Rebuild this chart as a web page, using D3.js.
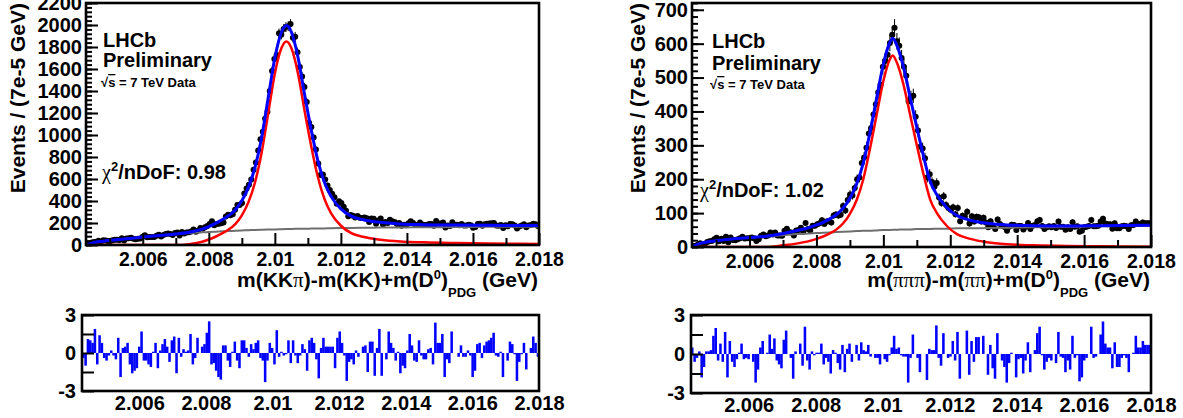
<!DOCTYPE html>
<html><head><meta charset="utf-8">
<script src="https://cdn.jsdelivr.net/npm/d3@7"></script>
<style>
body{margin:0;background:#fff}
svg{display:block}
text{font-family:"Liberation Sans",Arial,Helvetica,sans-serif;font-weight:bold;fill:#000}
</style>
</head><body>
<svg id="c" width="1183" height="418"></svg>
<script>
// ---------- binning / axes ----------
const massLow = 2.00428, massHigh = 2.018, binWidth = 0.00007;
const massTicks = [2.006, 2.008, 2.010, 2.012, 2.014, 2.016, 2.018];
const massTickLabels = ["2.006","2.008","2.01","2.012","2.014","2.016","2.018"];
const massMinorTicks = [2.005, 2.007, 2.009, 2.011, 2.013, 2.015, 2.017];
const kkYTicks = [0,200,400,600,800,1000,1200,1400,1600,1800,2000,2200];
const piYTicks = [0,100,200,300,400,500,600,700];
const pullTicks = [-3,-1.5,0,1.5,3];
const pullTickLabels = ["-3","","0","","3"];

// ---------- K K pi : data (events per bin) ----------
const kkData = [2,7,23,28,30,39,27,43,42,37,
37,43,47,47,46,61,40,59,62,67,
56,52,56,60,76,89,71,73,72,72,
85,93,77,92,99,105,101,90,109,114,
87,118,105,114,117,122,142,121,131,155,
147,161,172,192,215,179,191,193,197,205,
260,274,271,280,320,363,363,381,469,513,
547,595,684,749,859,962,1029,1147,1212,1399,
1582,1692,1728,1924,1912,1964,1981,1989,2009,1885,
1893,1752,1618,1532,1436,1301,1112,1072,977,868,
741,637,640,595,542,501,466,435,376,398,
382,348,311,262,273,267,251,263,247,246,
249,244,208,241,238,193,223,242,186,210,
201,230,215,208,192,201,175,183,179,198,
215,201,184,181,204,186,181,181,191,192,
174,218,196,196,204,158,177,173,206,183,
183,179,191,178,178,185,179,156,163,191,
193,176,189,193,195,197,201,177,176,181,
155,179,171,191,188,178,149,169,177,189,
161,178,182,194,188,173];
// fit curves (K K pi)
const kkCurveMass = [2.00428,2.0045,2.0048,2.0052,2.0056,2.0060,2.0065,2.0070,2.0074,2.0078,2.0080,2.0082,2.0084,2.0086,2.0088,2.0090,2.0092,2.0094,2.0096,2.0098,2.0100,2.0102,2.01035,2.0105,2.0107,2.0109,2.0111,2.0113,2.0115,2.0117,2.0120,2.0123,2.0127,2.0132,2.0138,2.0145,2.0155,2.0165,2.0180];
const kkSignal = [0,0,0,0,0,0,0,0,8,30,50,75,105,140,190,270,390,570,840,1200,1560,1790,1850,1790,1560,1220,900,620,420,290,175,110,72,48,32,24,18,14,10];
const kkBackground = [0,22,35,48,60,72,86,99,108,115,118,121,124,127,129,132,135,137,139,141,142,144,145,146,147,148,149,150,151,152,154,155,156,158,160,161,163,165,167];
const kkTotal = [0,22,35,48,60,72,86,99,116,145,168,196,229,267,319,402,525,707,979,1341,1702,1934,1995,1936,1707,1368,1049,770,571,442,329,265,228,206,192,185,181,179,177];
// pulls (K K pi)
const kkPull = [-0.4,-1.0,1.1,1.0,0.8,1.9,-0.9,1.4,0.8,-0.4,
-0.6,-0.2,0.2,-0.2,-0.5,1.2,-1.9,0.4,0.5,0.8,
-0.9,-1.6,-1.4,-1.2,0.5,1.7,-0.6,-0.6,-0.9,-1.1,
0.1,0.8,-1.2,0.2,0.7,1.1,0.5,-0.7,1.0,1.3,
-1.6,1.2,-0.3,0.3,0.1,0.2,1.5,-0.9,-0.4,1.2,
0.0,0.5,0.7,1.6,2.5,-0.9,-0.8,-1.4,-1.9,-2.1,
0.6,0.6,-0.6,-1.1,0.1,0.9,-0.6,-1.2,1.0,1.0,
0.4,-0.3,0.7,0.3,0.8,1.0,-0.4,-0.6,-2.3,-0.6,
0.8,0.4,-0.9,1.8,-0.3,0.1,-0.2,-0.1,1.0,-0.8,
1.0,-0.2,-0.8,-0.2,0.7,0.3,-1.4,1.0,1.2,0.8,
-0.5,-2.0,0.4,1.2,0.5,0.5,0.5,0.5,-1.2,1.2,
1.7,0.8,-0.2,-2.2,-0.7,-0.5,-0.9,0.2,-0.3,0.0,
0.5,0.6,-1.5,0.9,0.9,-1.8,0.4,1.9,-1.8,0.0,
-0.5,1.7,0.8,0.4,-0.6,0.1,-1.6,-1.0,-1.2,0.2,
1.5,0.6,-0.6,-0.7,1.0,-0.2,-0.5,-0.5,0.3,0.4,
-0.9,2.4,0.8,0.8,1.5,-1.9,-0.5,-0.8,1.7,0.0,
0.0,-0.3,0.6,-0.3,-0.3,0.2,-0.2,-1.9,-1.4,0.7,
0.8,-0.4,0.6,0.9,1.0,1.2,1.6,-0.2,-0.3,0.1,
-1.9,0.0,-0.6,0.9,0.7,-0.1,-2.2,-0.7,-0.1,0.8,
-1.3,0.0,0.4,1.3,0.8,-0.3];

// ---------- pi pi pi : data ----------
const piData = [3,4,7,11,6,9,15,17,18,23,
27,17,24,18,30,14,28,21,20,23,
26,30,25,26,26,28,26,18,23,33,
37,32,34,43,37,43,34,34,33,48,
54,44,43,34,49,50,57,46,71,53,
49,63,63,67,70,79,68,75,76,72,
93,96,93,95,121,108,139,155,152,174,
200,205,248,264,293,335,351,391,421,456,
479,532,549,567,602,626,647,607,594,558,
532,505,430,440,446,384,344,296,291,262,
205,215,192,178,189,146,130,150,124,115,
110,117,97,115,76,92,89,104,69,91,
75,89,88,75,86,72,58,76,61,53,
81,68,63,59,48,60,66,65,50,62,
62,52,60,71,53,63,65,76,80,62,
53,58,61,58,62,56,75,60,60,51,
58,53,73,60,61,45,48,58,60,62,
80,61,61,63,75,83,69,67,67,54,
70,55,55,61,63,61,53,64,65,75,
68,68,72,70,70,70];
const piCurveMass = [2.00428,2.0045,2.0048,2.0052,2.0056,2.0060,2.0065,2.0070,2.0074,2.0078,2.0080,2.0082,2.0084,2.0086,2.0088,2.0090,2.0092,2.0094,2.0096,2.0098,2.0100,2.0102,2.01028,2.0104,2.0106,2.0108,2.0110,2.0112,2.0114,2.0116,2.0119,2.0122,2.0126,2.0131,2.0137,2.0145,2.0155,2.0165,2.0180];
const piSignal = [0,0,0,0,0,0,0,5,10,18,24,31,40,52,70,98,138,200,290,390,490,555,565,545,480,390,300,215,140,100,62,38,24,14,8,5,3,2,1];
const piBackground = [0,10,16,21,25,28,32,35,38,40,41,42,43,44,45,46,47,48,48,49,50,50,51,51,52,52,53,53,53,54,54,55,55,56,57,58,59,61,63];
const piTotal = [0,10,16,21,25,28,32,40,48,58,65,73,83,96,115,144,185,248,338,439,540,605,616,596,532,442,353,268,193,154,116,93,79,70,65,63,62,63,64];
const piPull = [0.5,-0.6,-0.3,0.2,-1.8,-1.0,0.2,0.2,0.3,1.4,
2.0,-0.5,0.8,-0.6,1.7,-1.8,1.0,-0.6,-1.0,-0.4,
0.1,0.8,-0.4,-0.3,-0.4,0.0,-0.6,-2.2,-1.2,0.5,
1.0,0.0,0.1,1.5,0.4,1.2,-0.5,-0.8,-1.1,1.1,
1.8,0.0,-0.3,-1.9,0.2,0.0,0.8,-0.9,2.1,-0.5,
-1.2,0.2,-0.1,0.1,0.1,0.8,-0.8,-0.3,-0.6,-1.5,
0.3,0.1,-0.7,-1.2,0.7,-1.4,0.4,0.8,-0.6,0.0,
0.7,-0.5,0.9,0.3,0.2,0.7,-0.2,0.0,-0.3,-0.3,
-0.8,0.0,-0.4,-0.6,-0.1,0.5,1.4,0.4,0.5,
-0.1,-0.2,-0.2,-2.2,-0.3,1.5,0.0,-0.3,-1.4,0.0,
0.0,-2.0,0.4,0.3,0.3,2.2,-0.3,-0.9,1.6,0.0,
-0.3,-0.2,1.0,-0.5,1.7,-1.9,0.0,0.0,1.8,-1.6,
1.0,-0.6,1.3,1.3,0.0,1.4,0.0,-1.6,0.7,-1.1,
-1.9,1.6,0.0,-0.5,-1.0,-2.2,-0.7,0.1,0.0,-1.8,
-0.4,-0.3,-1.5,-0.5,0.9,-1.4,0.0,0.3,1.6,2.1,
-0.1,-1.2,-0.6,-0.3,-0.5,0.0,-0.7,1.7,-0.2,-0.3,
-1.4,-0.5,-1.2,1.4,-0.3,-0.1,-2.1,-1.8,-0.5,-0.3,
0.0,2.1,-0.3,-0.2,0.0,1.5,2.5,0.8,0.5,0.5,
-1.1,0.9,-1.0,-1.0,-0.3,-0.1,-0.3,-1.4,0.0,
0.1,1.4,0.5,0.5,1.0,0.7,0.7,0.7];

// ---------- drawing ----------
const svg = d3.select("#c");
const FONT = '"Liberation Sans",Arial,Helvetica,sans-serif';
const SERIF = '"Liberation Serif","Times New Roman",serif';

function styleAxis(g, size) {
  g.select(".domain").remove();
  g.selectAll(".tick line").attr("stroke","#000").attr("stroke-width",2);
  g.selectAll(".tick text").attr("font-family",FONT).attr("font-weight","bold").attr("font-size",size).attr("fill","#000");
}

function richText(parent, x, y, parts, opts) {
  const t = parent.append("text").attr("x", x).attr("y", y)
    .attr("font-size", opts.size).attr("text-anchor", opts.anchor || "start");
  if (opts.transform) t.attr("transform", opts.transform);
  parts.forEach(p => {
    const s = t.append("tspan").text(p.t);
    if (p.size) s.attr("font-size", p.size);
    if (p.dy) s.attr("dy", p.dy);
    if (p.serif) s.attr("font-family", SERIF).attr("font-weight", "normal");
    if (p.over) s.style("text-decoration", "overline");
  });
  return t;
}

function drawFit(p) {
  const x = d3.scaleLinear().domain([massLow, massHigh]).range([p.left, p.right]);
  const y = d3.scaleLinear().domain([0, p.yMax]).range([p.bottom, p.top]);
  const clipId = "clip" + p.id;
  svg.append("clipPath").attr("id", clipId).append("rect")
    .attr("x", p.left).attr("y", p.top).attr("width", p.right - p.left).attr("height", p.bottom - p.top);
  const plot = svg.append("g").attr("clip-path", `url(#${clipId})`);
  const cx = (d, i) => x(massLow + binWidth * (i + 0.5));
  plot.append("g").selectAll("line").data(p.data).join("line")
    .attr("x1", cx).attr("x2", cx)
    .attr("y1", d => y(d + Math.sqrt(d))).attr("y2", d => y(Math.max(0, d - Math.sqrt(d))))
    .attr("stroke", "#000").attr("stroke-width", 1);
  plot.append("g").selectAll("circle").data(p.data).join("circle")
    .attr("cx", cx).attr("cy", d => y(d)).attr("r", 3).attr("fill", "#000");
  const line = d3.line().x((d, i) => x(p.curveMass[i])).y(d => y(d)).curve(d3.curveMonotoneX);
  plot.append("path").attr("d", line(p.background)).attr("fill","none").attr("stroke","#6e6e6e").attr("stroke-width",2);
  plot.append("path").attr("d", line(p.signal)).attr("fill","none").attr("stroke","#ff0000").attr("stroke-width",2.5);
  plot.append("path").attr("d", line(p.total)).attr("fill","none").attr("stroke","#0000ff").attr("stroke-width",3);

  // y axis
  svg.append("g").attr("transform", `translate(${p.left},0)`)
    .call(d3.axisLeft(y).tickValues(d3.range(0, p.yMax + 1, p.yMinorStep)).tickSize(-6).tickFormat(""))
    .call(g => styleAxis(g, 20));
  svg.append("g").attr("transform", `translate(${p.left},0)`)
    .call(d3.axisLeft(y).tickValues(p.yTicks).tickSize(-12).tickPadding(4).tickFormat(d3.format("d")))
    .call(g => styleAxis(g, 20));
  // x axis
  svg.append("g").attr("transform", `translate(0,${p.bottom})`)
    .call(d3.axisBottom(x).tickValues(massMinorTicks).tickSize(-7).tickFormat(""))
    .call(g => styleAxis(g, 19));
  svg.append("g").attr("transform", `translate(0,${p.bottom})`)
    .call(d3.axisBottom(x).tickValues(massTicks).tickSize(-12).tickPadding(7).tickFormat((d, i) => massTickLabels[i]))
    .call(g => styleAxis(g, 19.5));
  // frame
  svg.append("rect").attr("x", p.left).attr("y", p.top).attr("width", p.right - p.left).attr("height", p.bottom - p.top)
    .attr("fill","none").attr("stroke","#000").attr("stroke-width",2.6);

  // titles
  richText(svg, 0, 0, [{t:"Events / (7e-5 GeV)"}], {size: 21, anchor: "end", transform: `translate(${p.yTitleX},3) rotate(-90)`});
  richText(svg, p.right - 1, 287, p.xTitle, {size: 21, anchor: "end"});
  svg.append("text").attr("x", p.labelX).attr("y", p.lhcbY).attr("font-size", 20).text("LHCb");
  svg.append("text").attr("x", p.labelX).attr("y", p.prelimY).attr("font-size", 20).text("Preliminary");
  richText(svg, p.labelX - 2, p.sqrtY, [{t:"√"},{t:"s", over:true},{t:" = 7 TeV Data"}], {size: 13});
  richText(svg, p.chiX, p.chiY, [{t:"χ", serif:true},{t:"2", size:13, dy:-8},{t:"/nDoF: " + p.chi2, dy:8}], {size: 20});
}

function drawPull(p) {
  const x = d3.scaleLinear().domain([massLow, massHigh]).range([p.left, p.right]);
  const y = d3.scaleLinear().domain([-3, 3]).range([p.bottom, p.top]);
  svg.append("g").selectAll("rect").data(p.pull).join("rect")
    .attr("x", (d, i) => x(massLow + binWidth * i))
    .attr("width", (d, i) => x(massLow + binWidth * (i + 1)) - x(massLow + binWidth * i) + 0.2)
    .attr("y", d => Math.min(y(d), y(0)))
    .attr("height", d => Math.abs(y(d) - y(0)))
    .attr("fill", "#0000ff");
  svg.append("g").attr("transform", `translate(${p.left},0)`)
    .call(d3.axisLeft(y).tickValues(pullTicks).tickSize(-12).tickPadding(6).tickFormat((d, i) => pullTickLabels[i]))
    .call(g => styleAxis(g, 20));
  svg.append("g").attr("transform", `translate(0,${p.bottom})`)
    .call(d3.axisBottom(x).tickValues(massTicks).tickSize(0).tickPadding(5).tickFormat((d, i) => massTickLabels[i]))
    .call(g => styleAxis(g, 20));
  svg.append("rect").attr("x", p.left).attr("y", p.top).attr("width", p.right - p.left).attr("height", p.bottom - p.top)
    .attr("fill","none").attr("stroke","#000").attr("stroke-width",2.6);
}

drawFit({
  id: "kk", left: 86, right: 539, top: 3, bottom: 245, yMax: 2200, yMinorStep: 40, yTicks: kkYTicks,
  data: kkData, curveMass: kkCurveMass, signal: kkSignal, background: kkBackground, total: kkTotal,
  yTitleX: 25, labelX: 103, lhcbY: 47, prelimY: 67, sqrtY: 87, chiX: 102, chiY: 179, chi2: "0.98",
  xTitle: [{t:"m(KK"},{t:"π", serif:true},{t:")-m(KK)+m(D"},{t:"0", size:13, dy:-8},{t:")", dy:8},{t:"PDG", size:13, dy:10},{t:" (GeV)", dy:-10}]
});
drawFit({
  id: "pi", left: 692, right: 1151, top: 3, bottom: 247, yMax: 720, yMinorStep: 20, yTicks: piYTicks,
  data: piData, curveMass: piCurveMass, signal: piSignal, background: piBackground, total: piTotal,
  yTitleX: 645, labelX: 712, lhcbY: 48, prelimY: 70, sqrtY: 89, chiX: 700, chiY: 197, chi2: "1.02",
  xTitle: [{t:"m("},{t:"πππ", serif:true},{t:")-m("},{t:"ππ", serif:true},{t:")+m(D"},{t:"0", size:13, dy:-8},{t:")", dy:8},{t:"PDG", size:13, dy:10},{t:" (GeV)", dy:-10}]
});
drawPull({left: 82, right: 539, top: 315, bottom: 391, pull: kkPull});
drawPull({left: 691, right: 1151, top: 315, bottom: 393, pull: piPull});
</script>
</body></html>
